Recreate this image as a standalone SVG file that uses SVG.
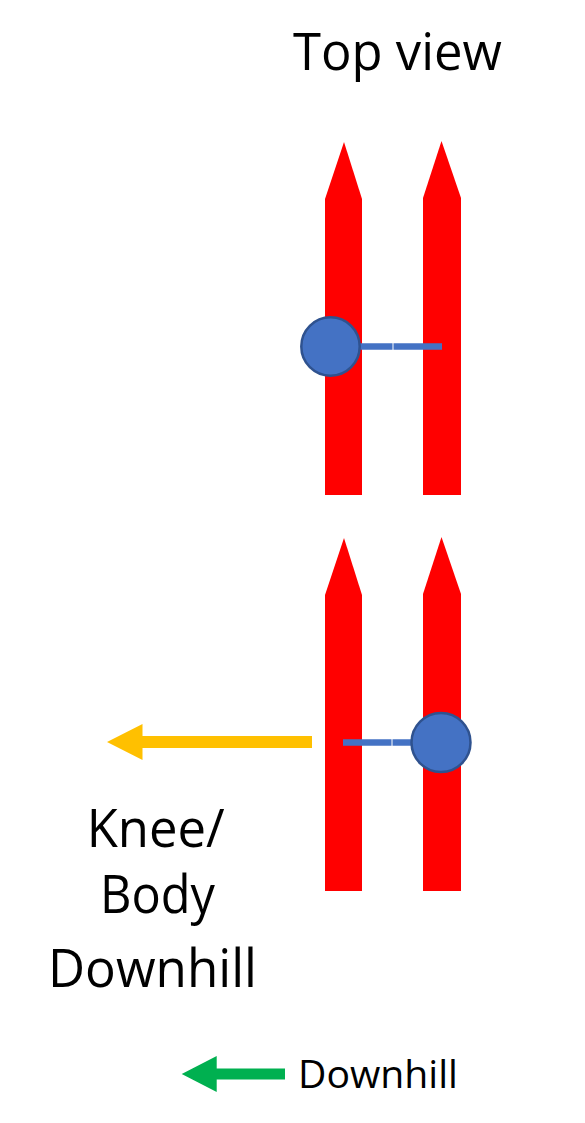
<svg xmlns="http://www.w3.org/2000/svg" width="585" height="1123" viewBox="0 0 585 1123">
<style>
.ski{fill:#FF0000}
.txt{font-family:"Open Sans","Noto Sans","Liberation Sans",sans-serif;fill:#000}
.knob{fill:#4472C4;stroke:#2F528F;stroke-width:2.5}
.link{stroke:#4472C4;stroke-width:6.5;fill:none}
</style>
<rect width="585" height="1123" fill="#fff"/>
<g id="title"><text class="txt" x="293" y="70" font-size="51" textLength="209" lengthAdjust="spacingAndGlyphs">Top view</text></g>
<g id="top-skis">
<polygon id="ski-top-left" class="ski" points="325,495 325,199 344,142 362,199 362,495"/>
<polygon id="ski-top-right" class="ski" points="423,495 423,198 441.5,141 461,198 461,495"/>
</g>
<g id="bottom-skis">
<polygon id="ski-bot-left" class="ski" points="325,891 325,595 344,538 362,595 362,891"/>
<polygon id="ski-bot-right" class="ski" points="423,891 423,594 441.5,537 461,594 461,891"/>
</g>
<g id="connectors">
<line class="link" x1="358" y1="346.5" x2="392.5" y2="346.5"/>
<line class="link" x1="393.5" y1="346.5" x2="442" y2="346.5"/>
<line class="link" x1="343" y1="742.5" x2="391.5" y2="742.5"/>
<line class="link" x1="392.5" y1="742.5" x2="420" y2="742.5"/>
<polygon id="arrow-yellow" fill="#FFC000" points="312,736 142.5,736 142.5,724 107,742 142.5,760 142.5,748 312,748"/>
<polygon id="arrow-green" fill="#00B050" points="285,1068.5 216.7,1068.5 216.7,1056 181.7,1074 216.7,1092 216.7,1079.5 285,1079.5"/>
</g>
<g id="knob-top"><circle class="knob" cx="330.5" cy="346.5" r="29.2"/></g>
<g id="knob-bottom"><circle class="knob" cx="441" cy="742.5" r="29.5"/></g>
<g id="label-knee" class="txt" font-size="53">
<text x="86.7" y="847" textLength="138" lengthAdjust="spacingAndGlyphs">Knee/</text>
<text x="100" y="913" textLength="115" lengthAdjust="spacingAndGlyphs">Body</text>
<text x="48" y="987" textLength="209" lengthAdjust="spacingAndGlyphs">Downhill</text>
</g>
<g id="legend"><text class="txt" x="298" y="1088" font-size="38" textLength="160" lengthAdjust="spacingAndGlyphs">Downhill</text></g>
</svg>
